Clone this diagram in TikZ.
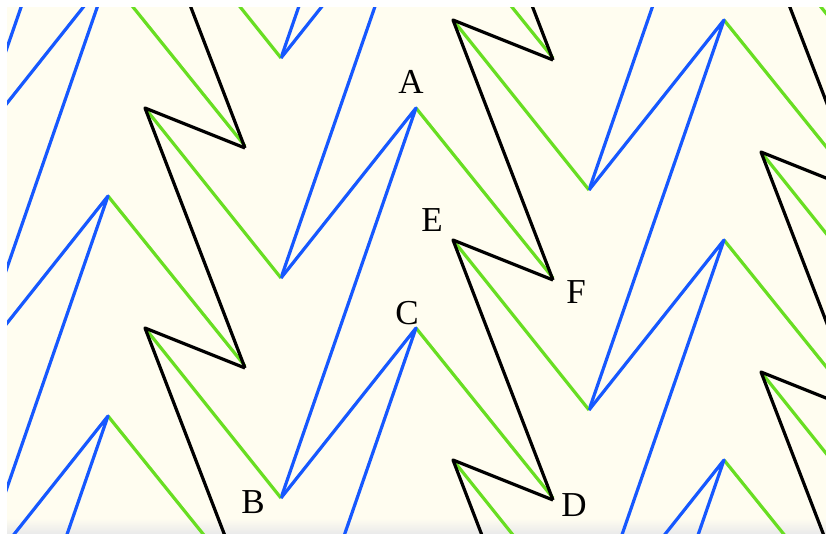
\documentclass[tikz,border=0pt]{standalone}
\usepackage{fontspec}
\setmainfont{Liberation Serif}
\usetikzlibrary{calc}

\begin{document}
\begin{tikzpicture}[
  x=1pt, y=-1pt,
  font=\fontsize{35}{35}\selectfont,
  blueln/.style={draw=zigblue, line width=3.2pt, line join=round},
  greenln/.style={draw=ziggreen, line width=3.2pt},
  blackln/.style={draw=black, line width=3.2pt, line join=round},
  lbl/.style={inner sep=0pt},
]
\definecolor{cream}{RGB}{255,253,240}
\definecolor{zigblue}{RGB}{22,88,255}
\definecolor{ziggreen}{RGB}{104,222,34}
\useasboundingbox (0,0) rectangle (826,533);
\fill[white] (0,0) rectangle (826,533);
\fill[cream] (7,7) rectangle (826,533);
\shade[top color=cream, bottom color=black!8] (7,518) rectangle (826,533);

\begin{scope}
\clip (7,7) rectangle (826,533);
% one cell per lattice point: (0,220) down, (308,-88) to the right
\foreach \c in {-1,...,2}
  \foreach \k in {-3,...,3} {
    \begin{scope}[shift={({281+308*\c},{278-88*\c+220*\k})}]
      \draw[greenln] (-136,-170) -- (0,0);
      \draw[greenln] (135,-170) -- (272,0);
      \draw[blackln] (-36,-130) -- (-136,-170) -- (-36,90);
      \draw[blueln] (0,0) -- (135,-170) -- (0,220);
    \end{scope}
  }
\end{scope}

\coordinate (A) at (416,108);
\coordinate (B) at (281,498);
\coordinate (C) at (416,330);
\coordinate (D) at (553,500);
\coordinate (E) at (453,240);
\coordinate (F) at (553,280);

\node[lbl] (labA) at ($(A)+(-5,-26)$) {A};
\node[lbl] (labB) at ($(B)+(-28,4)$) {B};
\node[lbl] (labC) at ($(C)+(-9,-17)$) {C};
\node[lbl] (labD) at ($(D)+(21,5)$) {D};
\node[lbl] (labE) at ($(E)+(-21,-20)$) {E};
\node[lbl] (labF) at ($(F)+(23,12)$) {F};
\end{tikzpicture}
\end{document}
